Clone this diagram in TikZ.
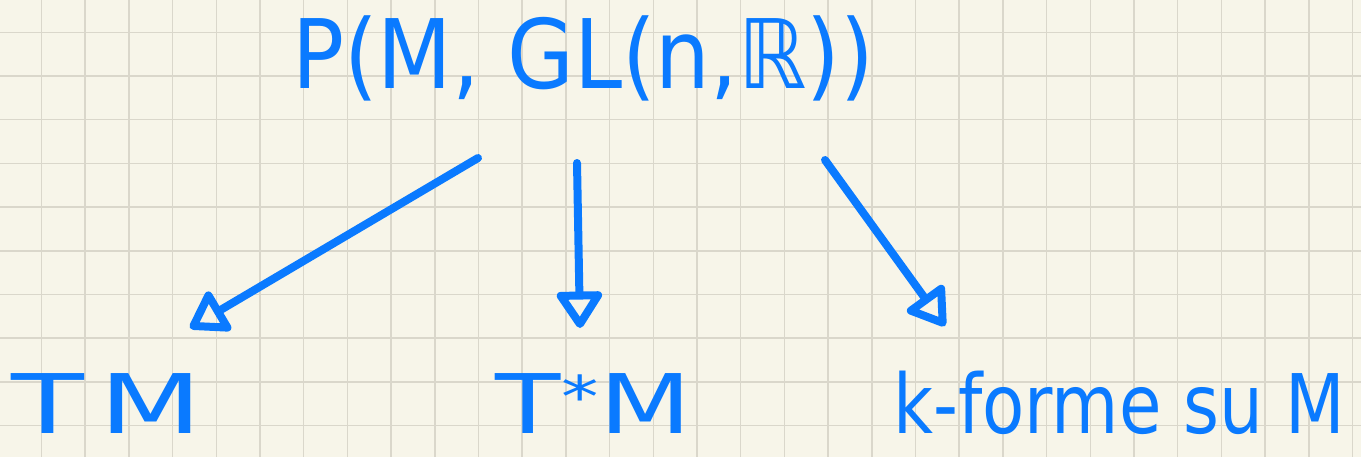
\documentclass[tikz,border=0pt]{standalone}
\usepackage{fontspec}
\setmainfont{DejaVu Sans}
\usetikzlibrary{arrows.meta,calc}
\definecolor{paper}{RGB}{247,245,233}
\definecolor{gridc}{RGB}{218,215,203}
\definecolor{ink}{RGB}{10,122,255}
\tikzset{
  lbl/.style={text=ink, inner sep=0pt, anchor=base},
  arr/.style={draw=ink, line width=0.16cm, line cap=round, line join=round,
    -{Triangle[open,round,length=0.8cm,width=1.0cm]}},
}
\begin{document}
\begin{tikzpicture}[x=0.02cm,y=-0.02cm]
\useasboundingbox (0,0) rectangle (1361,457);
\fill[paper] (0,0) rectangle (1361,457);
\foreach \i in {0,...,30} {
  \draw[gridc, line width=0.03cm] (41.5+43.7*\i,0) -- (41.5+43.7*\i,457);
}
\foreach \j in {0,...,9} {
  \draw[gridc, line width=0.03cm] (0,32.3+43.7*\j) -- (1361,32.3+43.7*\j);
}
\node[lbl, xscale=0.9] (top) at (583,88) {\fontsize{54.6}{60}\selectfont P(M, GL(n,ℝ))};
\node[lbl, xscale=1.45] (tm) at (107,433) {\fontsize{46.8}{52}\selectfont T\kern6pt M};
\node[lbl, xscale=1.3] (ts) at (594,433) {\fontsize{46.8}{52}\selectfont T\textsuperscript{*}M};
\node[lbl, xscale=0.84] (kf) at (1119,433) {\fontsize{46.8}{52}\selectfont k-forme su M};
\draw[arr] ($(top.base)+(-105,70)$) -- ($(tm.base)+(83,-105)$);
\draw[arr] ($(top.base)+(-6,75)$) -- ($(ts.base)+(-14,-105)$);
\draw[arr] ($(top.base)+(242,72)$) -- ($(kf.base)+(-174,-107)$);
\end{tikzpicture}
\end{document}
